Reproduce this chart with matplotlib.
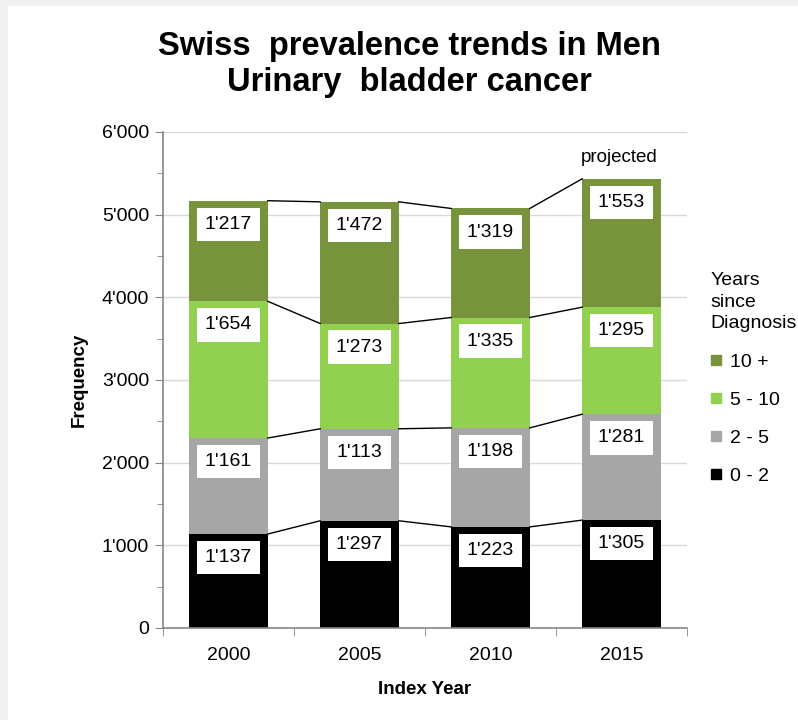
import matplotlib
matplotlib.use("Agg")
import matplotlib.pyplot as plt
from matplotlib.lines import Line2D
from matplotlib.patches import Rectangle
from matplotlib.ticker import FuncFormatter, MultipleLocator

plt.rcParams['font.family'] = ['Liberation Sans', 'DejaVu Sans']

# data
years = ['2000', '2005', '2010', '2015']
groups = ['0 - 2', '2 - 5', '5 - 10', '10 +']
yrs_0_2 = [1137, 1297, 1223, 1305]
yrs_2_5 = [1161, 1113, 1198, 1281]
yrs_5_10 = [1654, 1273, 1335, 1295]
yrs_10_plus = [1217, 1472, 1319, 1553]
colors = ['#000000', '#a6a6a6', '#92d050', '#77933c']


def fmt_thousands(v, pos=None):
    return f"{int(round(v)):,}".replace(",", "'")


def main():
    fig = plt.figure(figsize=(7.98, 7.2), dpi=100, facecolor='#f0f0f0')
    fig.patches.append(Rectangle((8 / 798, 0), 1, 1 - 6 / 720, transform=fig.transFigure,
                                 facecolor='white', edgecolor='none', zorder=-10))
    ax = fig.add_axes([163 / 798, 1 - 628 / 720, 524 / 798, 496 / 720])
    ax.set_zorder(1)
    ax.set_facecolor('white')

    series = [yrs_0_2, yrs_2_5, yrs_5_10, yrs_10_plus]
    x = list(range(len(years)))
    width = 0.6
    bottom = [0] * len(years)
    tops = []
    for vals, col, name in zip(series, colors, groups):
        ax.bar(x, vals, width, bottom=bottom, color=col, edgecolor='none', label=name, zorder=2)
        top = [b + v for b, v in zip(bottom, vals)]
        for i, v in enumerate(vals):
            ax.annotate(fmt_thousands(v), (x[i], top[i]), xytext=(0, -17), textcoords='offset points',
                        ha='center', va='center', fontsize=14, zorder=4,
                        bbox=dict(boxstyle='square,pad=0.42', facecolor='white', edgecolor='none'))
        tops.append(top)
        bottom = top

    # series lines between bar tops
    for top in tops:
        for i in range(len(years) - 1):
            ax.plot([x[i] + width / 2, x[i + 1] - width / 2], [top[i], top[i + 1]],
                    color='black', lw=1, zorder=3)

    ax.annotate('projected', (x[-1], tops[-1][-1]), xytext=(-2, 15), textcoords='offset points',
                ha='center', va='center', fontsize=13.5)

    ax.set_xlim(-0.5, 3.5)
    ax.set_ylim(0, 6000)
    ax.set_xticks(x)
    ax.set_xticklabels(years)
    ax.set_xticks([-0.5, 0.5, 1.5, 2.5, 3.5], minor=True)
    ax.tick_params(axis='x', which='major', length=0, pad=14, labelsize=14)
    ax.tick_params(axis='x', which='minor', length=6, color='#868686')
    ax.yaxis.set_major_locator(MultipleLocator(1000))
    ax.yaxis.set_minor_locator(MultipleLocator(500))
    ax.yaxis.set_major_formatter(FuncFormatter(fmt_thousands))
    ax.tick_params(axis='y', which='major', length=6, color='#868686', pad=4, labelsize=14)
    ax.tick_params(axis='y', which='minor', length=4, color='#868686')
    ax.grid(axis='y', which='major', color='#d9d9d9', lw=1, zorder=0)
    ax.set_axisbelow(True)
    for s in ['top', 'right']:
        ax.spines[s].set_visible(False)
    for s in ['left', 'bottom']:
        ax.spines[s].set_color('#868686')
        ax.spines[s].set_linewidth(1.2)

    ax.set_xlabel('Index Year', fontsize=13.5, fontweight='bold', labelpad=12)
    ax.set_ylabel('Frequency', fontsize=13.5, fontweight='bold', labelpad=10)

    fig.text(409 / 798, 1 - 31 / 720, 'Swiss  prevalence trends in Men\nUrinary  bladder cancer',
             ha='center', va='top', fontsize=23.5, fontweight='bold', linespacing=1.22)

    handles = [Line2D([], [], marker='s', ls='none', color=c, markersize=7) for c in colors]
    leg = fig.legend(handles[::-1], groups[::-1], title='Years\nsince\nDiagnosis',
                     loc='upper left', bbox_to_anchor=(697 / 798, 1 - 258 / 720),
                     frameon=False, fontsize=14, title_fontsize=14,
                     handlelength=0.6, handletextpad=0.4, labelspacing=1.05,
                     borderpad=0.2)
    leg.get_title().set_linespacing(1.38)
    leg._legend_box.align = 'left'

    fig.savefig('out.png', dpi=100, facecolor=fig.get_facecolor())


if __name__ == "__main__":
    main()
